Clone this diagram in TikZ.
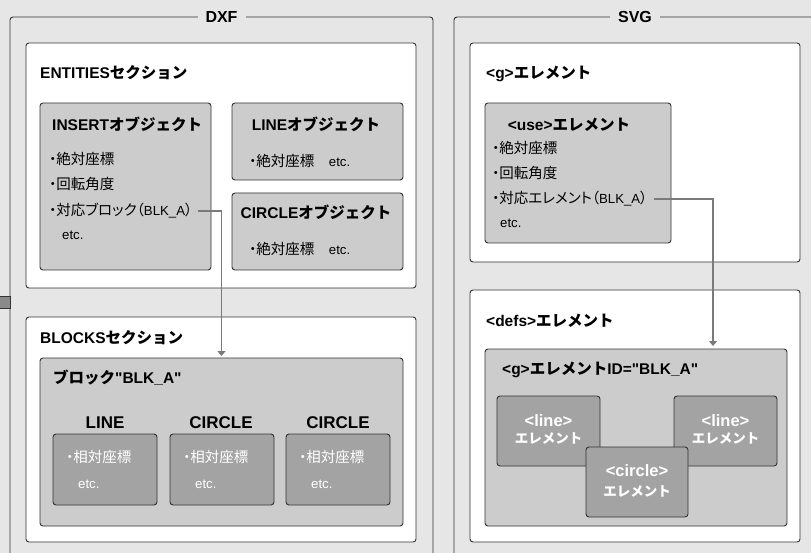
\documentclass[tikz,border=0pt]{standalone}
\usepackage{fontspec}
\setmainfont{Liberation Sans}[Ligatures=TeXOff]
\newfontfamily\jpf{Noto Sans CJK JP}
\newfontfamily\jpp{Noto Sans CJK JP}[RawFeature=+palt]
\newcommand\J[1]{{\jpf #1}}
\newcommand\JR[1]{{\fontsize{14.5}{17}\selectfont\jpp #1}}
\usetikzlibrary{arrows.meta}
\definecolor{bgc}{HTML}{E6E6E6}
\definecolor{lgr}{HTML}{CCCCCC}
\definecolor{dgr}{HTML}{A3A3A3}
\definecolor{bdr}{HTML}{333333}
\definecolor{arr}{HTML}{7A7A7A}
\definecolor{stubc}{HTML}{8A8A8A}
\begin{document}
\begin{tikzpicture}[x=1pt,y=-1pt,
 box/.style={draw=bdr, line width=0.9pt, rounded corners=3pt, anchor=north west, inner sep=0pt, outer sep=0pt},
 wbox/.style={box, fill=white},
 gbox/.style={box, fill=lgr},
 dbox/.style={box, fill=dgr},
 frame/.style={box},
 ftitle/.style={fill=bgc, font=\fontsize{16}{19}\selectfont\bfseries, inner xsep=8pt, inner ysep=1pt},
 ttl/.style={font=\fontsize{15.5}{18}\selectfont\bfseries, anchor=base west, inner sep=0pt},
 ttlc/.style={ttl, anchor=base},
 txt/.style={font=\fontsize{13.2}{15}\selectfont, anchor=base west, inner sep=0pt},
 wtxt/.style={txt, text=white},
 lbl/.style={font=\fontsize{17}{20}\selectfont\bfseries, anchor=base, inner sep=0pt},
 etxt/.style={font=\fontsize{16.5}{19}\selectfont\bfseries, text=white, anchor=base, inner sep=0pt},
 ktxt/.style={font=\fontsize{13.5}{16}\selectfont\bfseries\jpf, text=white, anchor=base, inner sep=0pt},
 conn/.style={draw=arr, line width=1.5pt, -{Triangle[length=5pt,width=8pt]}}
]
\useasboundingbox (0,0) rectangle (811,553);
\clip (0,0) rectangle (811,553);
\fill[bgc] (0,0) rectangle (811,553);

% outer frames
\node[frame, minimum width=423pt, minimum height=600pt] (dxf) at (10,17) {};
\node[ftitle] (dxfT) at (dxf.north) {DXF};
\node[frame, minimum width=362pt, minimum height=600pt] (svg) at (454,17) {};
\node[ftitle] (svgT) at (svg.north) {SVG};
\node[box, rounded corners=0pt, fill=stubc, minimum width=12pt, minimum height=12pt] (stub) at (-2,296) {};

% ENTITIES section
\node[wbox, minimum width=390pt, minimum height=245pt] (ent) at (26,43) {};
\node[ttl] (entT) at (40,78.7) {ENTITIES\J{セクション}};
\node[gbox, minimum width=171pt, minimum height=167pt] (ins) at (40,103) {};
\node[ttl] (insT) at (52,130.7) {INSERT\J{オブジェクト}};
\node[txt] (ins1) at (49,165) {\JR{・絶対座標}};
\node[txt] (ins2) at (49,190) {\JR{・回転角度}};
\node[txt] (ins3) at (49,216) {\JR{・対応ブロック（}BLK\_A\JR{）}};
\node[txt] (ins4) at (62,239.5) {etc.};
\node[gbox, minimum width=171pt, minimum height=77pt] (lno) at (232,103) {};
\node[ttlc] (lnoT) at (316,130.7) {LINE\J{オブジェクト}};
\node[txt] (lno1) at (249,167) {\JR{・絶対座標　}etc.};
\node[gbox, minimum width=171pt, minimum height=77pt] (cio) at (232,193) {};
\node[ttlc] (cioT) at (316,218.7) {CIRCLE\J{オブジェクト}};
\node[txt] (cio1) at (249,255) {\JR{・絶対座標　}etc.};

% BLOCKS section
\node[wbox, minimum width=390pt, minimum height=225pt] (blk) at (26,317) {};
\node[ttl] (blkT) at (40,343.7) {BLOCKS\J{セクション}};
\node[gbox, minimum width=363pt, minimum height=168pt] (blka) at (40,358) {};
\node[ttl] (blkaT) at (53,383.7) {\J{ブロック}"BLK\_A"};
\node[lbl] (l1) at (105,428) {LINE};
\node[lbl] (l2) at (221,428) {CIRCLE};
\node[lbl] (l3) at (338,428) {CIRCLE};
\node[dbox, minimum width=104pt, minimum height=71pt] (s1) at (53,434) {};
\node[dbox, minimum width=104pt, minimum height=71pt] (s2) at (170,434) {};
\node[dbox, minimum width=104pt, minimum height=71pt] (s3) at (286,434) {};
\node[wtxt] (s1a) at (66,462) {\JR{・相対座標}};
\node[wtxt] (s1b) at (78,488) {etc.};
\node[wtxt] (s2a) at (183,462) {\JR{・相対座標}};
\node[wtxt] (s2b) at (195,488) {etc.};
\node[wtxt] (s3a) at (299,462) {\JR{・相対座標}};
\node[wtxt] (s3b) at (311,488) {etc.};

% SVG <g> element
\node[wbox, minimum width=330pt, minimum height=219pt] (gel) at (470,43) {};
\node[ttl] (gelT) at (486,78.7) {<g>\J{エレメント}};
\node[gbox, minimum width=186pt, minimum height=140pt] (use) at (485,103) {};
\node[ttlc] (useT) at (569,130.7) {<use>\J{エレメント}};
\node[txt] (use1) at (492,154) {\JR{・絶対座標}};
\node[txt] (use2) at (492,179) {\JR{・回転角度}};
\node[txt] (use3) at (492,204) {\JR{・対応エレメント（}BLK\_A\JR{）}};
\node[txt] (use4) at (500,228) {etc.};

% SVG <defs> element
\node[wbox, minimum width=330pt, minimum height=252pt] (defs) at (470,290) {};
\node[ttl] (defsT) at (486,326.7) {<defs>\J{エレメント}};
\node[gbox, minimum width=302pt, minimum height=177pt] (gid) at (485,349) {};
\node[ttl] (gidT) at (502,374.7) {<g>\J{エレメント}ID="BLK\_A"};
\node[dbox, minimum width=103pt, minimum height=70pt] (e1) at (497,396) {};
\node[etxt] (e1a) at (548.5,426) {<line>};
\node[ktxt] (e1b) at (548.5,443.5) {エレメント};
\node[dbox, minimum width=103pt, minimum height=70pt] (e2) at (674,396) {};
\node[etxt] (e2a) at (725.5,426) {<line>};
\node[ktxt] (e2b) at (725.5,443.5) {エレメント};
\node[dbox, minimum width=102pt, minimum height=70pt] (e3) at (586,447) {};
\node[etxt] (e3a) at (637,476.5) {<circle>};
\node[ktxt] (e3b) at (637,496.5) {エレメント};

% connectors
\draw[conn, shorten >=2pt] ([xshift=5pt]ins3.east) -| (blka.north);
\coordinate (tgt) at (713,349);
\draw[conn, shorten >=3pt] ([xshift=6pt]use3.east) -| (tgt);
\end{tikzpicture}
\end{document}
